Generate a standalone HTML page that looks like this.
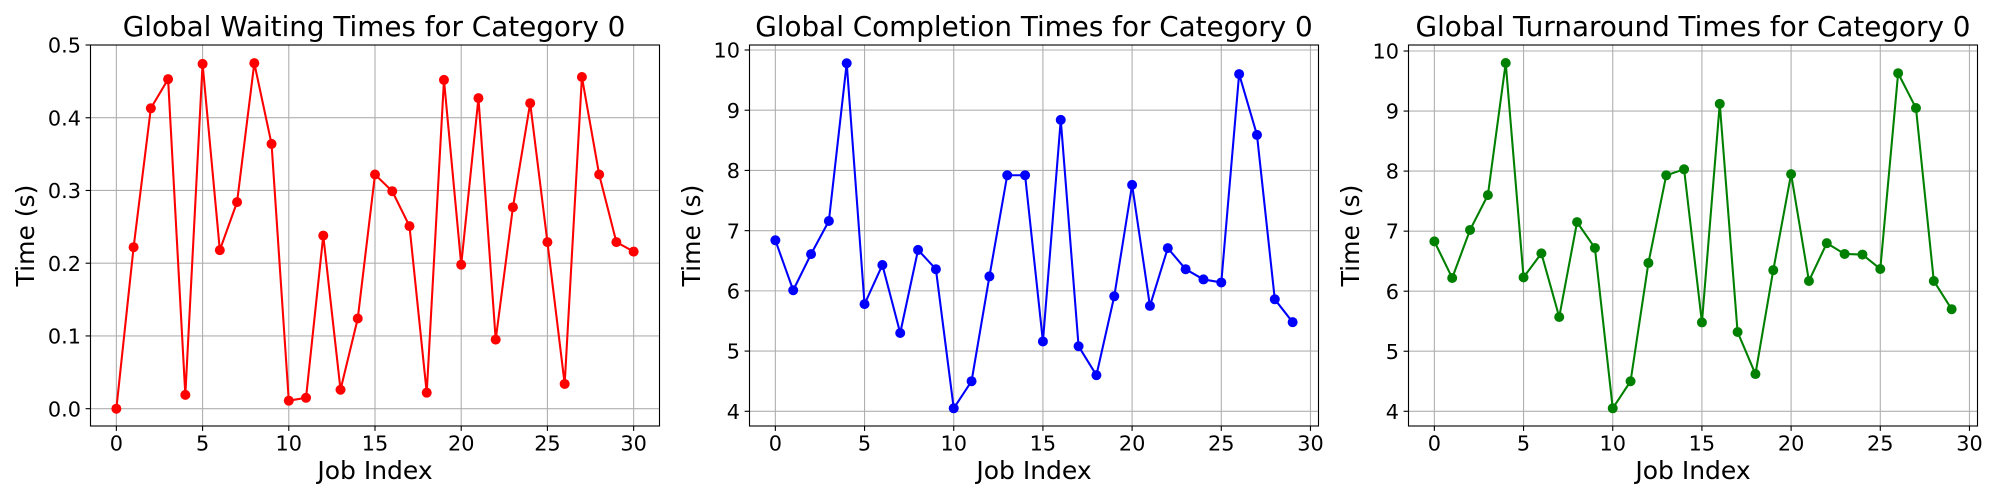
<!DOCTYPE html>
<html lang="en">
<head>
<meta charset="utf-8">
<title>Global Times for Category 0</title>
<style>
html,body{margin:0;padding:0;background:#fff;width:2000px;height:500px;overflow:hidden}
svg{display:block}
text{font-family:"DejaVu Sans",sans-serif;fill:#000}
</style>
</head>
<body>
<svg id="figure" xmlns="http://www.w3.org/2000/svg" width="2000" height="500" viewBox="0 0 2000 500"></svg>
<script>
// ---- Chart data ----
const waitingTimes = [0, 0.222, 0.413, 0.453, 0.019, 0.474, 0.218, 0.284, 0.475, 0.364, 0.011, 0.015, 0.238, 0.026, 0.124, 0.322, 0.299, 0.251, 0.022, 0.452, 0.198, 0.427, 0.095, 0.277, 0.420, 0.229, 0.034, 0.456, 0.322, 0.229, 0.216];
const completionTimes = [6.84, 6.01, 6.61, 7.16, 9.78, 5.78, 6.43, 5.30, 6.68, 6.36, 4.05, 4.50, 6.24, 7.92, 7.92, 5.16, 8.84, 5.08, 4.60, 5.91, 7.76, 5.75, 6.71, 6.36, 6.19, 6.14, 9.60, 8.59, 5.86, 5.48];
const turnaroundTimes = [6.83, 6.22, 7.02, 7.60, 9.80, 6.23, 6.63, 5.57, 7.15, 6.72, 4.05, 4.50, 6.47, 7.93, 8.03, 5.48, 9.12, 5.32, 4.62, 6.35, 7.95, 6.17, 6.80, 6.62, 6.61, 6.37, 9.63, 9.05, 6.17, 5.70];
const xTickValues = [0, 5, 10, 15, 20, 25, 30];
const waitingYTicks = [0, 0.1, 0.2, 0.3, 0.4, 0.5];
const waitingYLabels = ['0.0', '0.1', '0.2', '0.3', '0.4', '0.5'];
const timeYTicks = [4, 5, 6, 7, 8, 9, 10];
const timeYLabels = ['4', '5', '6', '7', '8', '9', '10'];

const NS = 'http://www.w3.org/2000/svg';
const fig = document.getElementById('figure');
const TOP = 45, BOTTOM = 426;

function make(parent, tag, attrs, text) {
  const el = document.createElementNS(NS, tag);
  for (const k in attrs) el.setAttribute(k, attrs[k]);
  if (text !== undefined) el.textContent = text;
  parent.appendChild(el);
  return el;
}

function drawPanel(p) {
  const g = make(fig, 'g', {});
  
  

  const sx = v => p.left + (v - p.xlim[0]) / (p.xlim[1] - p.xlim[0]) * (p.right - p.left);
  const sy = v => BOTTOM - (v - p.ylim[0]) / (p.ylim[1] - p.ylim[0]) * (BOTTOM - TOP);

  // grid lines + ticks + tick labels
  p.xTicks.forEach(t => {
    const x = sx(t);
    const grid = make(g, 'line', {x1: x, x2: x, y1: TOP, y2: BOTTOM, stroke: '#b0b0b0', 'stroke-width': 1.11});
    
    
    const tick = make(g, 'line', {x1: x, x2: x, y1: BOTTOM, y2: BOTTOM + 4.9, stroke: '#000', 'stroke-width': 1.11});
    
    
    const label = make(g, 'text', {x: x, y: BOTTOM + 24.5, 'font-size': p.tickFont, 'text-anchor': 'middle'}, String(t));
    
    
  });
  p.yTicks.forEach((t, i) => {
    const y = sy(t);
    const grid = make(g, 'line', {x1: p.left, x2: p.right, y1: y, y2: y, stroke: '#b0b0b0', 'stroke-width': 1.11});
    
    
    const tick = make(g, 'line', {x1: p.left - 4.9, x2: p.left, y1: y, y2: y, stroke: '#000', 'stroke-width': 1.11});
    
    
    const label = make(g, 'text', {x: p.left - 9.5, y: y + 7.6, 'font-size': p.tickFont, 'text-anchor': 'end'}, p.yLabels[i]);
    
    
  });

  // series line
  const pts = p.values.map((v, i) => sx(i).toFixed(2) + ',' + sy(v).toFixed(2)).join(' ');
  const line = make(g, 'polyline', {points: pts, fill: 'none', stroke: p.color, 'stroke-width': 2.08, 'stroke-linejoin': 'round'});
  
  

  // series points
  p.values.forEach((v, i) => {
    const c = make(g, 'circle', {cx: sx(i), cy: sy(v), r: 5, fill: p.color});
    
    
  });

  // axes frame
  const frame = make(g, 'rect', {x: p.left, y: TOP, width: p.right - p.left, height: BOTTOM - TOP, fill: 'none', stroke: '#000', 'stroke-width': 1.11});
  
  

  // titles
  const cx = (p.left + p.right) / 2;
  const title = make(g, 'text', {x: cx + p.titleShift, y: 36, 'font-size': 27.8, 'text-anchor': 'middle'}, p.title);
  
  
  const xTitle = make(g, 'text', {x: cx, y: 479, 'font-size': 25, 'text-anchor': 'middle'}, 'Job Index');
  
  
  const yx = p.yTitleX, yy = (TOP + BOTTOM) / 2;
  const yTitle = make(g, 'text', {x: yx, y: yy, 'font-size': 25, 'text-anchor': 'middle', transform: 'rotate(-90 ' + yx + ' ' + yy + ')'}, 'Time (s)');
  
  
}

drawPanel({key: 'waiting', title: 'Global Waiting Times for Category 0', color: '#ff0000',
  values: waitingTimes, left: 90.5, right: 659.5, xlim: [-1.5, 31.5], ylim: [-0.0238, 0.5],
  xTicks: xTickValues, yTicks: waitingYTicks, yLabels: waitingYLabels, tickFont: 20.8, yTitleX: 34, titleShift: -1});
drawPanel({key: 'completion', title: 'Global Completion Times for Category 0', color: '#0000ff',
  values: completionTimes, left: 749.5, right: 1318.5, xlim: [-1.45, 30.45], ylim: [3.756, 10.083],
  xTicks: xTickValues, yTicks: timeYTicks, yLabels: timeYLabels, tickFont: 20.8, yTitleX: 700, titleShift: 0});
drawPanel({key: 'turnaround', title: 'Global Turnaround Times for Category 0', color: '#008000',
  values: turnaroundTimes, left: 1408.5, right: 1977.5, xlim: [-1.45, 30.45], ylim: [3.755, 10.1],
  xTicks: xTickValues, yTicks: timeYTicks, yLabels: timeYLabels, tickFont: 20.8, yTitleX: 1359, titleShift: 0});
</script>
</body>
</html>
